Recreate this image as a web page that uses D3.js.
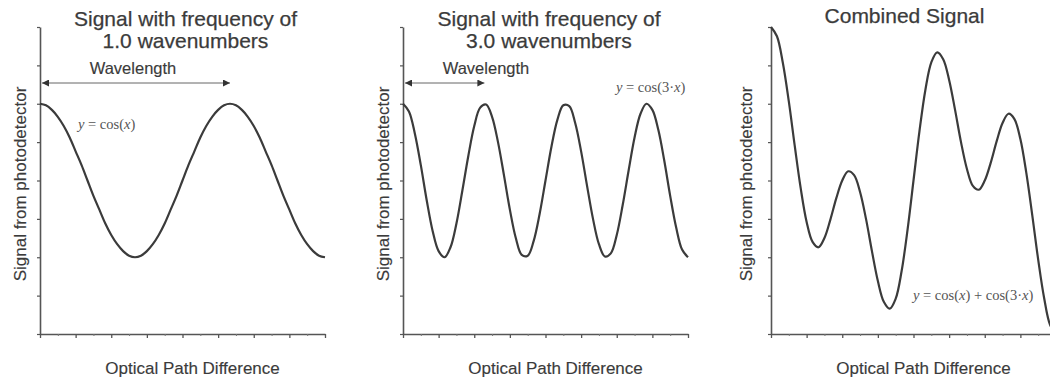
<!DOCTYPE html>
<html>
<head>
<meta charset="utf-8">
<script src="https://cdn.jsdelivr.net/npm/d3@7"></script>
<style>
  html, body { margin: 0; padding: 0; background: #fff; }
  svg { display: block; }
</style>
</head>
<body>
<svg id="chart" width="1050" height="380"></svg>
<script>
// ---- data ----
// sample positions along the optical path difference axis (48 equal steps)
const opd = [0,1,2,3,4,5,6,7,8,9,10,11,12,13,14,15,16,17,18,19,20,21,22,23,24,
             25,26,27,28,29,30,31,32,33,34,35,36,37,38,39,40,41,42,43,44,45,46,47,48];

const signalLow = [1.00,0.98,0.92,0.83,0.71,0.56,0.38,0.20,0.00,-0.20,-0.38,-0.56,-0.71,-0.83,-0.92,-0.98,-1.00,
                   -0.98,-0.92,-0.83,-0.71,-0.56,-0.38,-0.20,0.00,0.20,0.38,0.56,0.71,0.83,0.92,0.98,1.00,
                   0.98,0.92,0.83,0.71,0.56,0.38,0.20,0.00,-0.20,-0.38,-0.56,-0.71,-0.83,-0.92,-0.98,-1.00];

const signalHigh = [1.00,0.90,0.61,0.20,-0.26,-0.66,-0.92,-1.00,-0.87,-0.56,-0.13,0.32,0.71,0.95,0.99,0.83,0.50,
                    0.07,-0.38,-0.75,-0.97,-0.98,-0.79,-0.44,0.00,0.44,0.79,0.98,0.97,0.75,0.38,-0.07,-0.50,
                    -0.83,-0.99,-0.95,-0.71,-0.32,0.13,0.56,0.87,1.00,0.92,0.66,0.26,-0.20,-0.61,-0.90,-1.00];

const signalCombined = [2.00,1.88,1.53,1.03,0.45,-0.10,-0.54,-0.80,-0.87,-0.75,-0.51,-0.23,0.00,0.12,0.07,-0.15,-0.50,
                        -0.92,-1.31,-1.58,-1.67,-1.54,-1.18,-0.64,0.00,0.64,1.18,1.54,1.67,1.58,1.31,0.92,0.50,
                        0.15,-0.07,-0.12,0.00,0.23,0.51,0.75,0.87,0.80,0.54,0.10,-0.45,-1.03,-1.53,-1.88,-2.00];

const yTicks = [-2,-1.5,-1,-0.5,0,0.5,1,1.5,2];
const xMajorTicks = [0,6,12,18,24,30,36,42,48];
const xMinorTicks = [3,9,15,21,27,33,39,45];

// wavelength spans (in opd samples) for the arrow annotations
const wavelengthLow = 32;
const wavelengthHigh = 13.71;

const titles = [["Signal with frequency of","1.0 wavenumbers"],
                ["Signal with frequency of","3.0 wavenumbers"],
                ["Combined Signal"]];
const xLabel = "Optical Path Difference";
const yLabel = "Signal from photodetector";

// ---- layout ----
const svg = d3.select("#chart");
const ink = "#3b3b3b";
const sans = "'Liberation Sans', Arial, Helvetica, sans-serif";
const serif = "'Liberation Serif', 'Times New Roman', serif";

const panels = [
  { x0: 40,  series: signalLow,      title: titles[0], titleDx: 3,  titleY: 26, yLabX: 26,
    arrow: wavelengthLow,  wlTextX: 133, eq: [["y","i"],[" = cos(",""],["x","i"],[")",""]], eqX: 78, eqY: 129 },
  { x0: 403, series: signalHigh,     title: titles[1], titleDx: 3.5, titleY: 26, yLabX: 389,
    arrow: wavelengthHigh, wlTextX: 486, eq: [["y","i"],[" = cos(3·",""],["x","i"],[")",""]], eqX: 616, eqY: 92 },
  { x0: 771, series: signalCombined, title: titles[2], titleDx: -9, titleY: 23, yLabX: 752,
    arrow: null, eq: [["y","i"],[" = cos(",""],["x","i"],[") + cos(3·",""],["x","i"],[")",""]], eqX: 913, eqY: 300 }
];
const plotW = 285, yTop = 27, yBot = 334;

const y = d3.scaleLinear().domain([-2, 2]).range([yBot, yTop]);

svg.append("defs").append("marker")
  .attr("id", "arrowhead")
  .attr("viewBox", "0 0 10 10")
  .attr("refX", 10).attr("refY", 5)
  .attr("markerUnits", "userSpaceOnUse")
  .attr("markerWidth", 9).attr("markerHeight", 7)
  .attr("orient", "auto-start-reverse")
  .append("path").attr("d", "M0,0L10,5L0,10Z").attr("fill", "#333");

panels.forEach(p => {
  const x = d3.scaleLinear().domain([0, 48]).range([p.x0, p.x0 + plotW]);
  const g = svg.append("g");

  // y axis
  const ya = g.append("g").attr("transform", `translate(${p.x0},0)`)
    .call(d3.axisLeft(y).tickValues(yTicks).tickSize(3).tickSizeOuter(0).tickFormat(""));
  ya.select(".domain").attr("stroke", "#555").attr("stroke-width", 1.6);
  ya.selectAll(".tick line").attr("stroke", "#555").attr("stroke-width", 1.2);

  // x axis (major + minor ticks)
  const xa = g.append("g").attr("transform", `translate(0,${yBot})`)
    .call(d3.axisBottom(x).tickValues(xMajorTicks).tickSize(4).tickSizeOuter(0).tickFormat(""));
  xa.select(".domain").attr("stroke", "#555").attr("stroke-width", 1.6);
  xa.selectAll(".tick line").attr("stroke", "#555").attr("stroke-width", 1.3);
  const xm = g.append("g").attr("transform", `translate(0,${yBot})`)
    .call(d3.axisBottom(x).tickValues(xMinorTicks).tickSize(2).tickSizeOuter(0).tickFormat(""));
  xm.select(".domain").remove();
  xm.selectAll(".tick line").attr("stroke", "#777").attr("stroke-width", 1);

  // curve
  const line = d3.line().x((d, i) => x(opd[i])).y(d => y(d)).curve(d3.curveCatmullRom);
  g.append("path").datum(p.series)
    .attr("d", line).attr("fill", "none")
    .attr("stroke", ink).attr("stroke-width", 2.2);

  // title
  const cx = p.x0 + plotW / 2 + p.titleDx;
  p.title.forEach((t, i) => {
    g.append("text").attr("x", cx).attr("y", p.titleY + i * 22)
      .attr("text-anchor", "middle").attr("font-family", sans).attr("font-size", 21)
      .attr("fill", ink).attr("stroke", ink).attr("stroke-width", 0.25).text(t);
  });

  // axis labels
  g.append("text").attr("x", p.x0 + plotW / 2 + 10).attr("y", 374)
    .attr("text-anchor", "middle").attr("font-family", sans).attr("font-size", 17)
    .attr("fill", ink).attr("stroke", ink).attr("stroke-width", 0.15).text(xLabel);
  g.append("text").attr("transform", `translate(${p.yLabX},184) rotate(-90)`)
    .attr("text-anchor", "middle").attr("font-family", sans).attr("font-size", 17)
    .attr("fill", ink).attr("stroke", ink).attr("stroke-width", 0.15).text(yLabel);

  // wavelength arrow
  if (p.arrow !== null) {
    g.append("line")
      .attr("x1", x(0) + 2).attr("x2", x(p.arrow))
      .attr("y1", 83).attr("y2", 83)
      .attr("stroke", "#666").attr("stroke-width", 1)
      .attr("marker-start", "url(#arrowhead)").attr("marker-end", "url(#arrowhead)");
    g.append("text").attr("x", p.wlTextX).attr("y", 74)
      .attr("text-anchor", "middle").attr("font-family", sans).attr("font-size", 16.5)
      .attr("fill", ink).attr("stroke", ink).attr("stroke-width", 0.15).text("Wavelength");
  }

  // equation
  const eq = g.append("text").attr("x", p.eqX).attr("y", p.eqY)
    .attr("font-family", serif).attr("font-size", 14.5).attr("fill", "#555")
    .attr("xml:space", "preserve");
  p.eq.forEach(([t, s]) => {
    eq.append("tspan").attr("font-style", s === "i" ? "italic" : "normal").text(t);
  });
});
</script>
</body>
</html>
